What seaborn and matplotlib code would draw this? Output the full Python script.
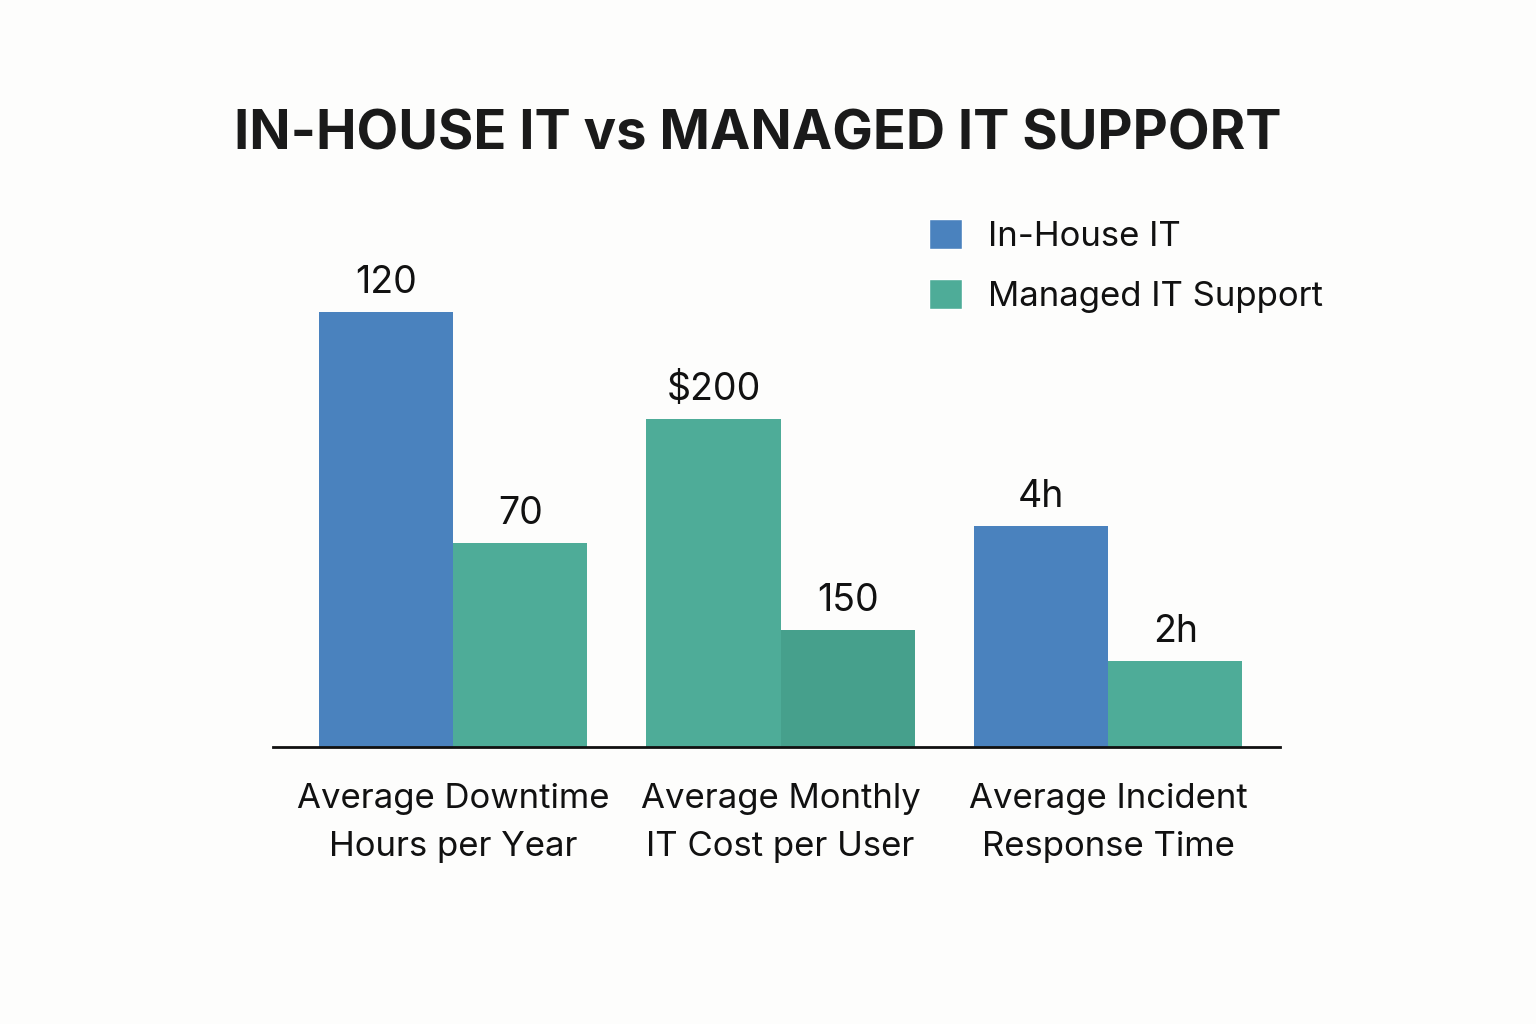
import pandas as pd
import matplotlib.pyplot as plt
import seaborn as sns
from matplotlib.patches import Patch

# data (bar heights in the chart's own drawn scale)
metrics = ["Average Downtime\nHours per Year", "Average Monthly\nIT Cost per User", "Average Incident\nResponse Time"]
series = ["In-House IT", "Managed IT Support"]
inhouse_heights = [120, 90.5, 61]
managed_heights = [56.3, 32.3, 23.7]
inhouse_labels = ["120", "$200", "4h"]
managed_labels = ["70", "150", "2h"]

blue = "#4A82BE"
green = "#4EAC98"
dark_green = "#46A08C"
inhouse_colors = [blue, green, blue]
managed_colors = [green, dark_green, green]

df = pd.DataFrame({
    "metric": metrics * 2,
    "series": [series[0]] * 3 + [series[1]] * 3,
    "height": inhouse_heights + managed_heights,
})

sns.set_style("white")
plt.rcParams["font.family"] = ["Inter", "DejaVu Sans"]
bg = "#FDFDFC"

fig = plt.figure(figsize=(15.36, 10.24), dpi=100, facecolor=bg)
ax = fig.add_axes([273 / 1536, 1 - 747 / 1024, 1007 / 1536, 535 / 1024])
ax.set_facecolor(bg)

sns.barplot(data=df, x="metric", y="height", hue="series", palette=[blue, green],
            width=0.82, dodge=True, linewidth=0, legend=False, ax=ax)

for cont, cols, labs in zip(ax.containers, [inhouse_colors, managed_colors], [inhouse_labels, managed_labels]):
    for bar, c in zip(cont, cols):
        bar.set_facecolor(c)
    ax.bar_label(cont, labels=labs, padding=8, fontsize=27, color="#111111")

ax.set_xlim(-0.55, 2.525)
ax.set_ylim(0, 147.6)
ax.set_xlabel("")
ax.set_ylabel("")
ax.set_yticks([])
for s in ["top", "right", "left"]:
    ax.spines[s].set_visible(False)
ax.spines["bottom"].set_color("#111111")
ax.spines["bottom"].set_linewidth(2)
ax.tick_params(axis="x", length=0, pad=26, labelsize=25, labelcolor="#111111")
for t in ax.get_xticklabels():
    t.set_linespacing(1.65)

handles = [Patch(facecolor=blue, label=series[0]), Patch(facecolor=green, label=series[1])]
ax.legend(handles=handles, loc="upper left", bbox_to_anchor=(0.62, 1.045), frameon=False,
          fontsize=25, handlelength=0.95, handleheight=0.95, handletextpad=0.75, labelspacing=0.75,
          labelcolor="#111111")

fig.text(0.4935, 1 - 135 / 1024, "IN-HOUSE IT vs MANAGED IT SUPPORT", ha="center", va="center",
         fontsize=39, fontweight="bold", color="#1a1a1a")

fig.savefig("out.png", dpi=100, facecolor=bg)
